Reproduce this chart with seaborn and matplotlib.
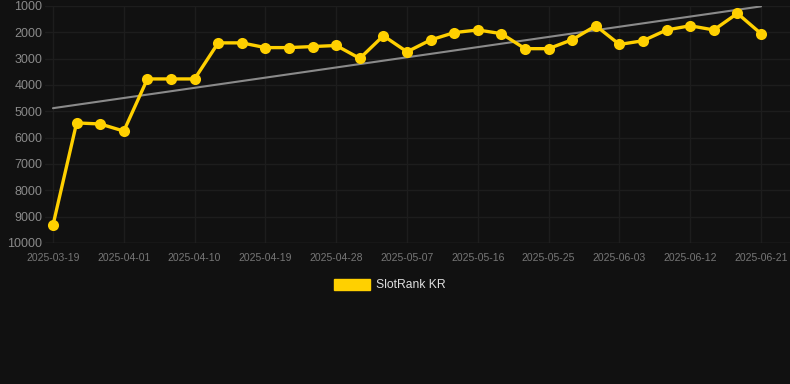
import numpy as np
import pandas as pd
import matplotlib
matplotlib.use("Agg")
import matplotlib.pyplot as plt
import matplotlib.patches as mpatches
import seaborn as sns

# rank values (one point every ~3 days)
ranks = [9320, 5440, 5480, 5750, 3770, 3770, 3770, 2400, 2400, 2580,
         2580, 2540, 2500, 2990, 2130, 2740, 2290, 2010, 1910, 2050,
         2620, 2620, 2280, 1750, 2460, 2320, 1910, 1750, 1910, 1280, 2050]
tick_labels = ['2025-03-19', '2025-04-01', '2025-04-10', '2025-04-19',
               '2025-04-28', '2025-05-07', '2025-05-16', '2025-05-25',
               '2025-06-03', '2025-06-12', '2025-06-21']
y_ticks = [1000, 2000, 3000, 4000, 5000, 6000, 7000, 8000, 9000, 10000]

df = pd.DataFrame({'idx': np.arange(len(ranks)), 'rank': ranks})

# linear trend
coef = np.polyfit(df['idx'], df['rank'], 1)
df['trend'] = np.polyval(coef, df['idx'])

bg = '#111111'
sns.set_style('dark')
plt.rcParams['font.family'] = ['Liberation Sans', 'DejaVu Sans']

fig = plt.figure(figsize=(7.9, 3.84), dpi=100, facecolor=bg)
ax = fig.add_axes([45 / 790, (384 - 243) / 384, 745 / 790, 237 / 384])
ax.set_facecolor(bg)

trend_x = df['idx'].iloc[[0, -1]]
ax.plot(trend_x, df['trend'].iloc[[0, -1]], color='#8a8a8a', lw=1.5, zorder=2)

sns.lineplot(data=df, x='idx', y='rank', ax=ax, color='#FFD000', lw=2.4,
             marker='o', markersize=8, markeredgewidth=0, zorder=3)

ax.set_ylim(10000, 1000)
ax.set_xlim(-8 / 23.6, 30 + 29 / 23.6)
ax.set_yticks(y_ticks)
ax.set_yticklabels([str(v) for v in y_ticks])
ax.set_xticks(df['idx'][::3])
ax.set_xticklabels(tick_labels)
ax.set_xlabel('')
ax.set_ylabel('')

ax.grid(True, color='#1d1d1d', lw=1)
ax.tick_params(axis='y', colors='#8a8a8a', labelsize=9, length=0, pad=2)
ax.tick_params(axis='x', colors='#262626', labelcolor='#777777',
               labelsize=7.5, length=4, pad=3)
for s in ax.spines.values():
    s.set_visible(False)
ax.axhline(10000, color='#2a2a2a', lw=1, zorder=1)

handle = mpatches.Patch(color='#FFD000', label='SlotRank KR')
leg = fig.legend(handles=[handle], loc='center', bbox_to_anchor=(0.493, 1 - 285 / 384),
                 frameon=False, fontsize=8.7, handlelength=3.0, handleheight=1.0,
                 handletextpad=0.45)
for t in leg.get_texts():
    t.set_color('#dddddd')

fig.savefig('out.png', dpi=100, facecolor=bg)
